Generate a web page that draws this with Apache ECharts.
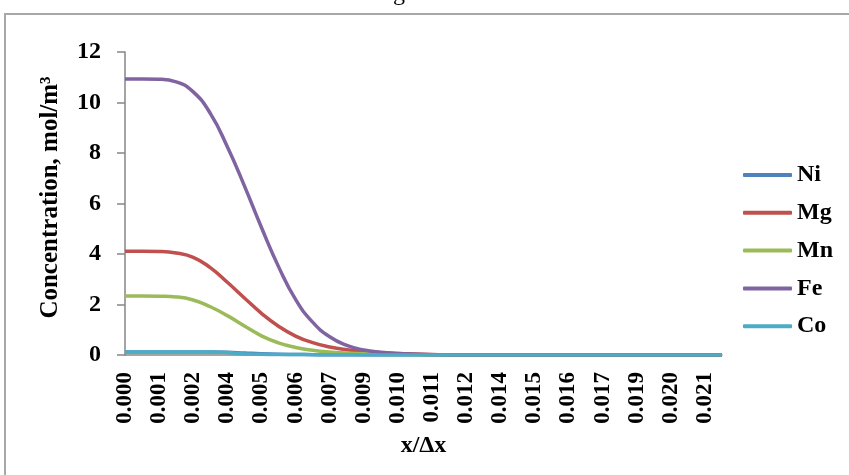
<!DOCTYPE html>
<html>
<head>
<meta charset="utf-8">
<script src="https://cdn.jsdelivr.net/npm/echarts@6/dist/echarts.min.js"></script>
<style>
html,body{margin:0;padding:0;background:#fff;}
#chart{width:849px;height:475px;}
</style>
</head>
<body>
<div id="chart"></div>
<script>
var categories = ["0.000","0.001","0.001","0.002","0.002","0.003","0.004","0.004","0.005","0.006",
  "0.006","0.007","0.007","0.008","0.009","0.009","0.010","0.011","0.011","0.012",
  "0.012","0.013","0.014","0.014","0.015","0.015","0.016","0.017","0.017","0.018",
  "0.019","0.019","0.020","0.020","0.021","0.022"];
var seriesNames = ["Ni","Mg","Mn","Fe","Co"];
var ni = [0.12,0.12,0.12,0.12,0.12,0.12,0.11,0.08,0.05,0.03,0.02,0.01,0,0,0,0,0,0,0,0,0,0,0,0,0,0,0,0,0,0,0,0,0,0,0,0];
var mg = [4.11,4.11,4.10,4.04,3.87,3.46,2.88,2.26,1.65,1.14,0.75,0.49,0.32,0.21,0.14,0.09,0.06,0.04,0.02,0,0,0,0,0,0,0,0,0,0,0,0,0,0,0,0,0];
var mn = [2.34,2.34,2.33,2.30,2.18,1.91,1.56,1.15,0.76,0.48,0.30,0.19,0.12,0.08,0.05,0.03,0.02,0.01,0,0,0,0,0,0,0,0,0,0,0,0,0,0,0,0,0,0];
var fe = [10.93,10.93,10.92,10.82,10.42,9.57,8.25,6.70,5.05,3.50,2.20,1.30,0.72,0.38,0.20,0.11,0.06,0.03,0.01,0,0,0,0,0,0,0,0,0,0,0,0,0,0,0,0,0];
var co = [0.12,0.12,0.12,0.12,0.12,0.12,0.10,0.04,0.03,0.02,0.02,0.01,0.01,0.01,0,0,0,0,0,0,0,0,0,0,0,0,0,0,0,0,0,0,0,0,0,0];
var yTicks = {min:0, max:12, interval:2};
var colors = ["#4F81BD","#C0504D","#9BBB59","#8064A2","#4BACC6"];
var yTitle = "Concentration, mol/m³";
var xTitle = "x/Δx";

var font = "'Liberation Serif','Times New Roman',serif";
var values = [ni, mg, mn, fe, co];
var chart = echarts.init(document.getElementById('chart'), null, {renderer:'canvas'});
var series = seriesNames.map(function(n, k){
  return {
    name: n, type: 'line', data: values[k], smooth: true, showSymbol: false, symbol: 'none',
    lineStyle: {width: 3.5, color: colors[k]}, itemStyle: {color: colors[k]}
  };
});
chart.setOption({
  animation: false,
  backgroundColor: '#fff',
  color: colors,
  grid: {left: 125, right: 127, top: 52, bottom: 120, containLabel: false},
  xAxis: {
    type: 'category', data: categories, boundaryGap: false,
    name: xTitle, nameLocation: 'middle', nameGap: 79,
    nameTextStyle: {fontFamily: font, fontWeight: 'bold', fontSize: 24, color: '#000'},
    axisLine: {lineStyle: {color: '#868686', width: 1.5}},
    axisTick: {show: false},
    axisLabel: {interval: 1, rotate: 90, margin: 17, fontFamily: font, fontWeight: 'bold', fontSize: 23, color: '#000'},
    splitLine: {show: false}
  },
  yAxis: {
    type: 'value', min: yTicks.min, max: yTicks.max, interval: yTicks.interval,
    name: yTitle, nameLocation: 'middle', nameGap: 62, nameRotate: 90,
    nameTextStyle: {fontFamily: font, fontWeight: 'bold', fontSize: 25, color: '#000', padding: [0, 0, 0, 12]},
    axisLine: {show: true, lineStyle: {color: '#868686', width: 1.5}},
    axisTick: {show: true, length: 8, lineStyle: {color: '#868686', width: 1.5}},
    axisLabel: {margin: 24, fontFamily: font, fontWeight: 'bold', fontSize: 24, color: '#000'},
    splitLine: {show: false}
  },
  legend: {
    orient: 'vertical', left: 743, top: 163, padding: 0,
    data: seriesNames, icon: 'roundRect', itemWidth: 49, itemHeight: 4, itemGap: 13.8,
    textStyle: {fontFamily: font, fontWeight: 'bold', fontSize: 24, color: '#000', lineHeight: 24}
  },
  graphic: [
    {type: 'rect', silent: true, z: -10, shape: {x: 5, y: 14, width: 900, height: 520},
      style: {fill: 'none', stroke: '#a8a8a8', lineWidth: 2}},
    {type: 'text', silent: true, left: 393, top: -18,
      style: {text: 'g', font: "24px 'Liberation Serif', serif", fill: '#000'}}
  ],
  series: series
});
</script>
</body>
</html>
